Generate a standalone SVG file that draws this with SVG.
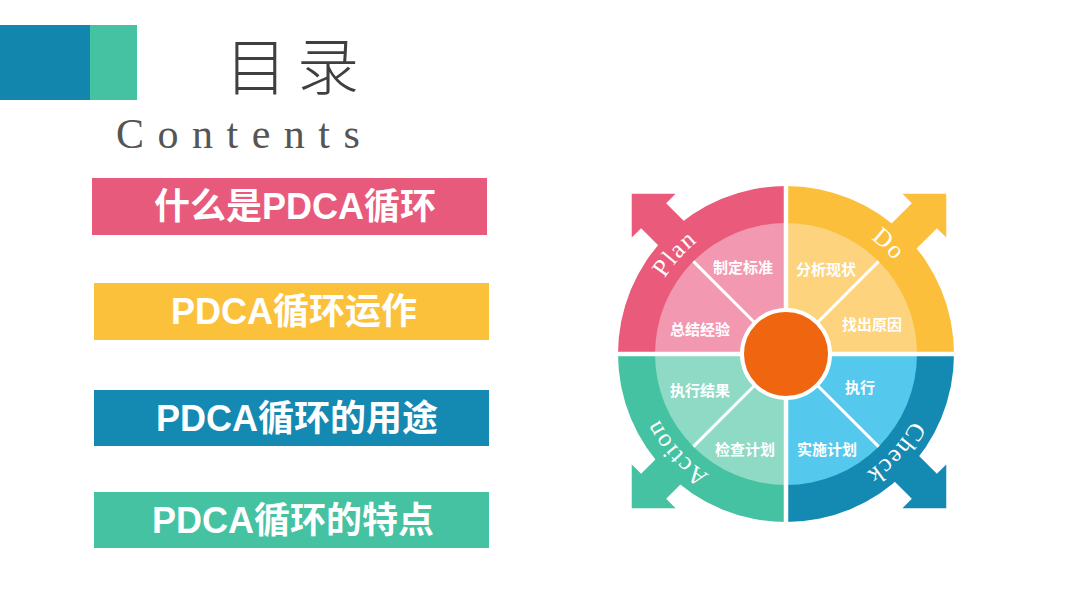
<svg xmlns="http://www.w3.org/2000/svg" width="1080" height="608" viewBox="0 0 1080 608">
<defs>
<style>
.btn-text{font-family:"Liberation Sans","Noto Sans CJK SC",sans-serif;font-weight:bold;font-size:36px;fill:#fff;text-anchor:middle;}
.seg-text{font-family:"Noto Sans CJK SC","Liberation Sans",sans-serif;font-weight:bold;font-size:15px;fill:#fff;text-anchor:middle;}
.ring-text{font-family:"Liberation Serif",serif;font-size:25px;fill:#fff;letter-spacing:1.5px;}
.divider{stroke:#fff;stroke-width:3;}
.gap{stroke:#fff;stroke-width:4.5;}
</style>
<polygon id="arrow" points="140,-17.7 190,-17.7 190,-31 221,0 190,31 190,17.7 140,17.7"/>
<path id="ringpath" d="M929,354 A143,143 0 0 1 643,354 A143,143 0 0 1 929,354"/>
</defs>
<rect width="1080" height="608" fill="#fff"/>
<g id="header">
<rect x="0" y="25" width="90" height="75" fill="#1386AE"/>
<rect x="90" y="25" width="47" height="75" fill="#44C2A2"/>
<text x="297" y="90" font-family="'Noto Sans CJK SC',sans-serif" font-weight="300" font-size="62" fill="#3f3f3f" text-anchor="middle" letter-spacing="10">目录</text>
<text x="116" y="148" font-family="'Liberation Serif',serif" font-size="42" fill="#555" letter-spacing="13.5">Contents</text>
</g>
<g id="item1">
<rect x="92" y="178" width="395" height="57" fill="#E85A7B"/>
<text class="btn-text" x="295" y="219">什么是PDCA循环</text>
</g>
<g id="item2">
<rect x="94" y="283" width="395" height="57" fill="#FCC13B"/>
<text class="btn-text" x="294" y="324">PDCA循环运作</text>
</g>
<g id="item3">
<rect x="94" y="390" width="395" height="56" fill="#1489B1"/>
<text class="btn-text" x="297" y="431">PDCA循环的用途</text>
</g>
<g id="item4">
<rect x="94" y="492" width="395" height="56" fill="#45C2A1"/>
<text class="btn-text" x="293" y="533">PDCA循环的特点</text>
</g>
<g id="wheel">
<g id="plan">
<path d="M786,354 L618,354 A168,168 0 0 1 786,186 Z" fill="#E95A7B"/>
<use href="#arrow" transform="translate(788,350) rotate(-135)" fill="#E95A7B"/>
<path d="M786,354 L655,354 A131,131 0 0 1 786,223 Z" fill="#F298B1"/>
<text class="seg-text" x="743" y="273">制定标准</text>
<text class="seg-text" x="700" y="335">总结经验</text>
</g>
<g id="do">
<path d="M786,354 L786,186 A168,168 0 0 1 954,354 Z" fill="#FCBF3B"/>
<use href="#arrow" transform="translate(790,350) rotate(-45)" fill="#FCBF3B"/>
<path d="M786,354 L786,223 A131,131 0 0 1 917,354 Z" fill="#FDD47D"/>
<text class="seg-text" x="826" y="275">分析现状</text>
<text class="seg-text" x="872" y="330">找出原因</text>
</g>
<g id="check">
<path d="M786,354 L954,354 A168,168 0 0 1 786,522 Z" fill="#1489B1"/>
<use href="#arrow" transform="translate(790,352) rotate(45)" fill="#1489B1"/>
<path d="M786,354 L917,354 A131,131 0 0 1 786,485 Z" fill="#55C8EE"/>
<text class="seg-text" x="860" y="393">执行</text>
<text class="seg-text" x="827" y="455">实施计划</text>
</g>
<g id="action">
<path d="M786,354 L786,522 A168,168 0 0 1 618,354 Z" fill="#45C2A1"/>
<use href="#arrow" transform="translate(788,352) rotate(135)" fill="#45C2A1"/>
<path d="M786,354 L786,485 A131,131 0 0 1 655,354 Z" fill="#8EDAC5"/>
<text class="seg-text" x="700" y="396">执行结果</text>
<text class="seg-text" x="745" y="455">检查计划</text>
</g>
<g id="connectors">
<line class="gap" x1="786" y1="180" x2="786" y2="528"/>
<line class="gap" x1="612" y1="354" x2="960" y2="354"/>
<line class="divider" x1="786" y1="354" x2="693.4" y2="261.4"/>
<line class="divider" x1="786" y1="354" x2="878.6" y2="261.4"/>
<line class="divider" x1="786" y1="354" x2="878.6" y2="446.6"/>
<line class="divider" x1="786" y1="354" x2="693.4" y2="446.6"/>
</g>
<g id="labels">
<text class="ring-text"><textPath href="#ringpath" startOffset="554" text-anchor="middle">Plan</textPath></text>
<text class="ring-text"><textPath href="#ringpath" startOffset="781" text-anchor="middle">Do</textPath></text>
<text class="ring-text"><textPath href="#ringpath" startOffset="105" text-anchor="middle">Check</textPath></text>
<text class="ring-text"><textPath href="#ringpath" startOffset="344" text-anchor="middle">Action</textPath></text>
</g>
<g id="center">
<circle cx="786" cy="354" r="44" fill="#F0650F" stroke="#fff" stroke-width="4"/>
</g>
</g>
</svg>
